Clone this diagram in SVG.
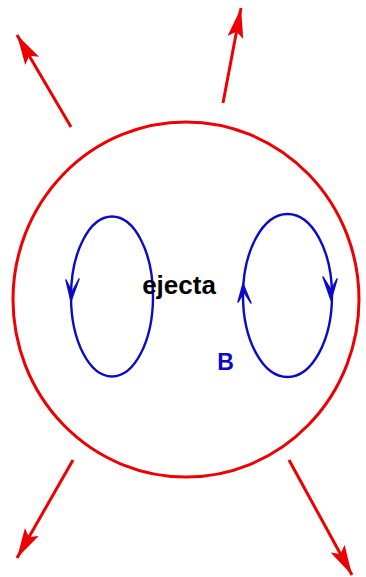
<svg xmlns="http://www.w3.org/2000/svg" width="366" height="577" viewBox="0 0 366 577">
<defs>
<style>
.red{fill:none;stroke:#ee0000;stroke-width:3}
.blue{fill:none;stroke:#0a0ac8;stroke-width:2.4}
.bhead{fill:#0a0ac8;stroke:#0a0ac8;stroke-width:1.5;stroke-linejoin:round}
.lbl{font-family:"Liberation Sans",Arial,sans-serif;font-weight:bold}
</style>
<marker id="rarrow" markerUnits="userSpaceOnUse" markerWidth="32" markerHeight="18" refX="30" refY="8" orient="auto">
<path d="M0,0 L30,8 L0,16 L6,8 z" fill="#ee0000"/>
</marker>
</defs>
<rect width="366" height="577" fill="#ffffff"/>
<g id="ejecta-shell">
<ellipse class="red" cx="186" cy="299.5" rx="173" ry="177.5"/>
</g>
<g id="loop-left">
<ellipse class="blue" cx="112" cy="296.5" rx="41" ry="80"/>
<path class="bhead" d="M66,280 L71,301 L79,279 L72,292 z"/>
</g>
<g id="loop-right">
<ellipse class="blue" cx="287.5" cy="295.5" rx="44.5" ry="81.5"/>
<path class="bhead" d="M238,302 L243,284 L251,303 L244,292 z"/>
<path class="bhead" d="M323,277 L331,300 L337,279 L331,290 z"/>
</g>
<g id="connectors">
<line class="red" x1="71" y1="127" x2="17" y2="35" marker-end="url(#rarrow)"/>
<line class="red" x1="223" y1="103" x2="241" y2="8" marker-end="url(#rarrow)"/>
<line class="red" x1="73" y1="460" x2="17" y2="558" marker-end="url(#rarrow)"/>
<line class="red" x1="289" y1="460" x2="352" y2="575" marker-end="url(#rarrow)"/>
</g>
<g id="label-ejecta">
<text class="lbl" x="179" y="294" font-size="26" text-anchor="middle" fill="#000000">ejecta</text>
</g>
<g id="label-B">
<text class="lbl" x="225.5" y="370" font-size="23" text-anchor="middle" fill="#0a0ac8">B</text>
</g>
</svg>
